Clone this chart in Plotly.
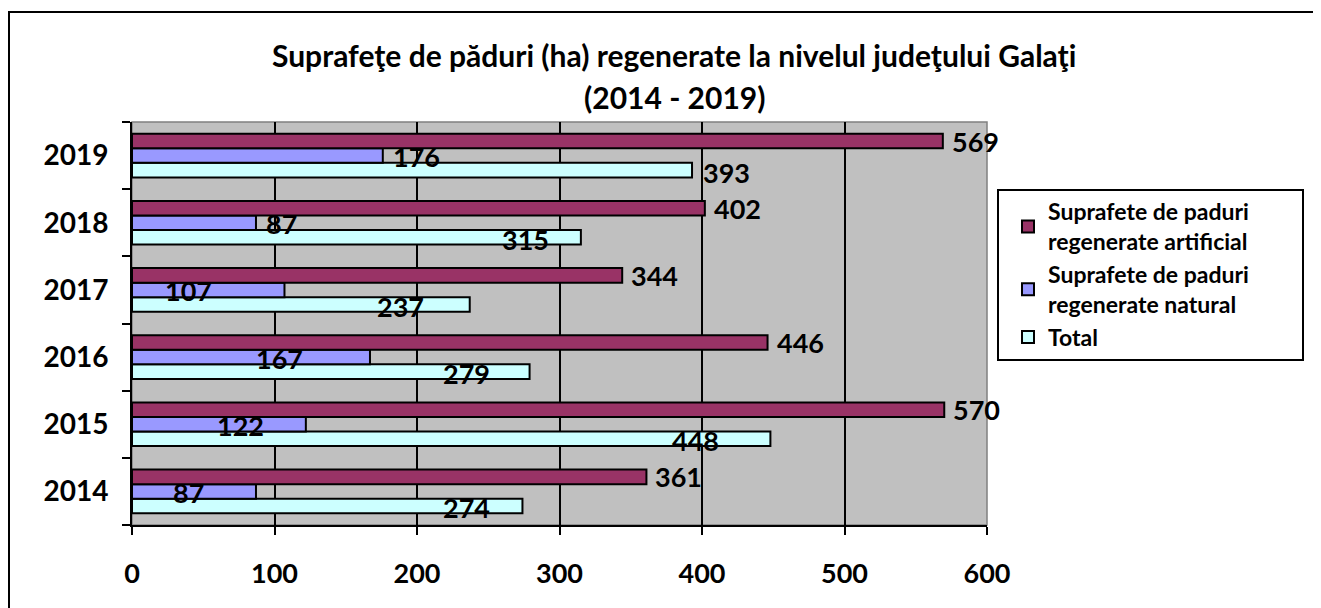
import plotly.graph_objects as go

years = ["2014", "2015", "2016", "2017", "2018", "2019"]
artificial = [361, 570, 446, 344, 402, 569]
natural = [87, 122, 167, 107, 87, 176]
total = [274, 448, 279, 237, 315, 393]

name_art = "Suprafete de paduri<br>regenerate artificial"
name_nat = "Suprafete de paduri<br>regenerate natural"
name_tot = "Total"

title1 = "Suprafeţe de păduri (ha) regenerate la nivelul judeţului Galaţi"
title2 = "(2014 - 2019)"

x_ticks = [0, 100, 200, 300, 400, 500, 600]

# label placement style (pixel shifts of label centre from bar end)
nat_label_dx = [-67, -65, -90, -96, 26, 34]
tot_label_dx = [-56, -75, -63, -69, -55, 34]

FONT = "Lato"
col_art = "#993366"
col_nat = "#9999FF"
col_tot = "#CCFFFF"

OFF = 8  # page body margin
W, H = 1321 - OFF, 608 - OFF
ml, mt = 132 - OFF, 122 - OFF
mr, mb = 334, 83
plot_w = W - ml - mr
plot_h = H - mt - mb
bargap = 0.35
bar_px = plot_h / len(years) * (1 - bargap) / 3


def px_x(p):
    return (p - OFF - ml) / plot_w


def px_y(p):
    return (H - mb - (p - OFF)) / plot_h


fig = go.Figure()
fig.add_trace(go.Bar(y=years, x=total, orientation="h", name=name_tot,
                     marker=dict(color=col_tot, line=dict(color="black", width=2))))
fig.add_trace(go.Bar(y=years, x=natural, orientation="h", name=name_nat,
                     marker=dict(color=col_nat, line=dict(color="black", width=2))))
fig.add_trace(go.Bar(y=years, x=artificial, orientation="h", name=name_art,
                     marker=dict(color=col_art, line=dict(color="black", width=2))))

lab_font = dict(family=FONT, size=27, color="black", weight="bold")
ann = []
for i, y in enumerate(years):
    ann.append(dict(x=artificial[i], y=i, xref="x", yref="y", text=str(artificial[i]),
                    showarrow=False, xanchor="left", xshift=7, yshift=bar_px,
                    font=lab_font))
    ann.append(dict(x=natural[i], y=i, xref="x", yref="y", text=str(natural[i]),
                    showarrow=False, xanchor="center", xshift=nat_label_dx[i], yshift=-1,
                    font=lab_font))
    ann.append(dict(x=total[i], y=i, xref="x", yref="y", text=str(total[i]),
                    showarrow=False, xanchor="center", xshift=tot_label_dx[i],
                    yshift=-bar_px - 2, font=lab_font))

title_font = dict(family=FONT, size=30, color="black")
ann.append(dict(x=px_x(674), y=px_y(55), xref="paper", yref="paper",
                text="<b>" + title1 + "</b>", showarrow=False, xanchor="center", yanchor="middle",
                font=title_font))
ann.append(dict(x=px_x(674), y=px_y(97), xref="paper", yref="paper",
                text="<b>" + title2 + "</b>", showarrow=False, xanchor="center", yanchor="middle",
                font=title_font))

shapes = [
    dict(type="rect", xref="paper", yref="paper", x0=0, x1=1, y0=0, y1=1,
         line=dict(color="#808080", width=1.5), layer="below"),
    dict(type="rect", xref="paper", yref="paper",
         x0=px_x(9), x1=px_x(1340), y0=px_y(625), y1=px_y(12),
         line=dict(color="black", width=2), fillcolor="rgba(0,0,0,0)"),
    # legend frame
    dict(type="rect", xref="paper", yref="paper",
         x0=px_x(998), x1=px_x(1303), y0=px_y(360), y1=px_y(190),
         line=dict(color="black", width=2), fillcolor="white", layer="above"),
]

fig.update_layout(
    width=W, height=H,
    margin=dict(l=ml, r=mr, t=mt, b=mb, autoexpand=False),
    paper_bgcolor="white", plot_bgcolor="#C0C0C0",
    barmode="group", bargap=bargap, bargroupgap=0,
    showlegend=True,
    legend=dict(x=px_x(998), y=px_y(190),
                xanchor="left", yanchor="top", traceorder="reversed",
                borderwidth=0, bgcolor="rgba(0,0,0,0)",
                indentation=10,
                font=dict(family=FONT, size=23, color="black", weight="bold"),
                itemclick=False),
    xaxis=dict(range=[0, 600], tickvals=x_ticks, showgrid=True, gridcolor="black", gridwidth=2,
               zeroline=False, showline=True, linecolor="black", linewidth=2,
               ticks="outside", ticklen=8, tickwidth=2, tickcolor="black",
               ticklabelstandoff=16,
               tickfont=dict(family=FONT, size=27, color="black", weight="bold")),
    yaxis=dict(type="category", categoryorder="array", categoryarray=years,
               range=[-0.5, len(years) - 0.5],
               showline=True, linecolor="black", linewidth=2, showgrid=False,
               ticks="outside", tickson="boundaries", ticklen=8, tickwidth=2, tickcolor="black",
               ticklabelstandoff=16,
               tickfont=dict(family=FONT, size=28, color="black", weight="bold")),
    annotations=ann,
    shapes=shapes,
)

fig.write_html("out.html")
